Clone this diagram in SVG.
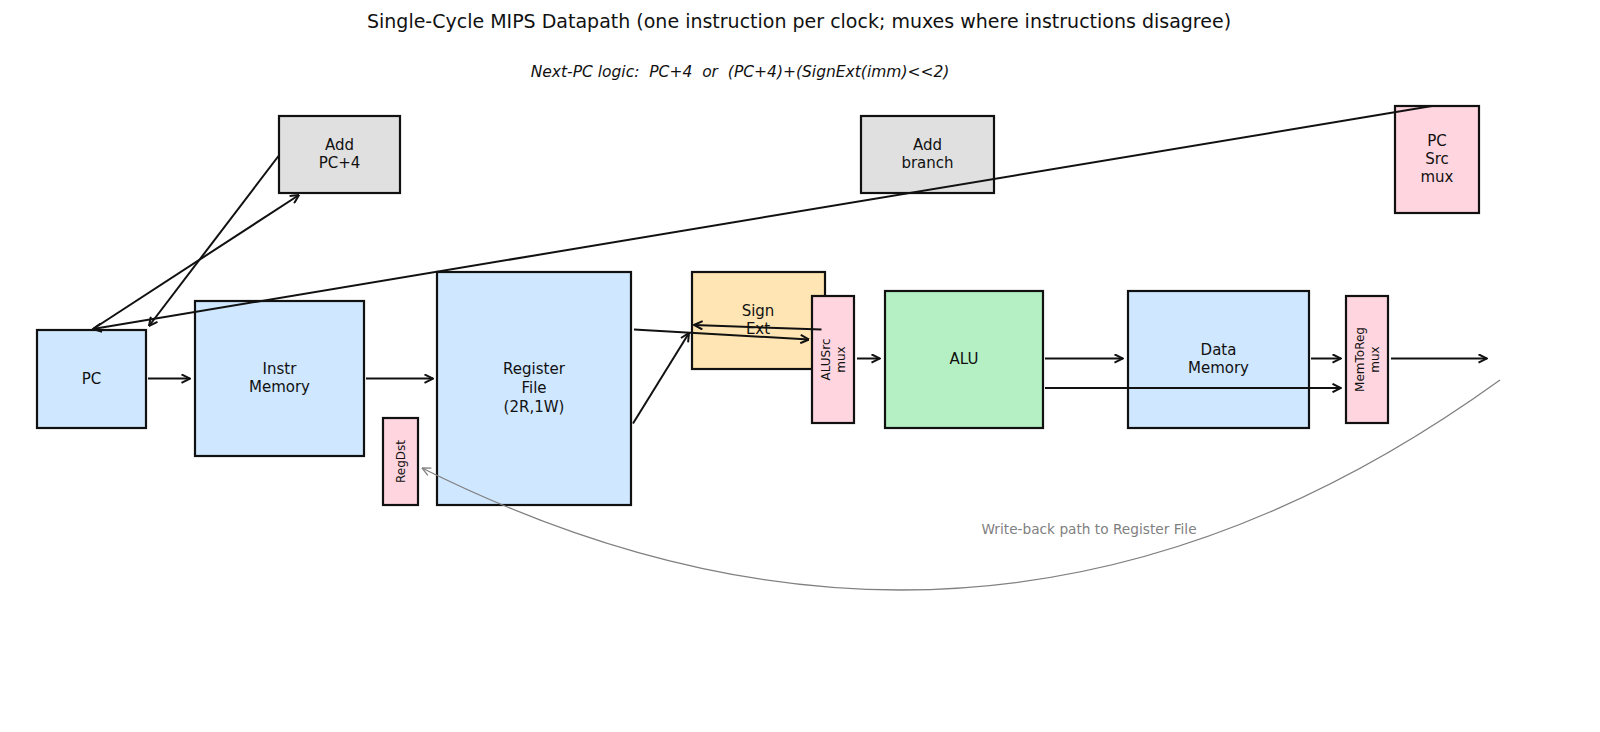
<svg xmlns="http://www.w3.org/2000/svg" width="1600" height="732" viewBox="0 0 1600 732">
<style>
text{font-family:"DejaVu Sans","Liberation Sans",sans-serif;fill:#111;text-anchor:middle;dominant-baseline:central}
.box{stroke:#111;stroke-width:2.2}
.blue{fill:#cfe7ff}
.gray{fill:#e0e0e0}
.pink{fill:#ffd5df}
.orange{fill:#ffe5b3}
.green{fill:#b4f0c4}
.lbl{font-size:15px}
.rot{font-size:12px}
.wire{fill:none;stroke:#111;stroke-width:2;marker-end:url(#arr)}
.wb{fill:none;stroke:#808080;stroke-width:1.3;marker-end:url(#arrg)}
</style>
<defs>
<marker id="arr" viewBox="0 0 10 10" refX="9.5" refY="5" markerWidth="10" markerHeight="10" markerUnits="userSpaceOnUse" orient="auto">
<path d="M1,0.8 L9.5,5 L1,9.2" fill="none" stroke="#111" stroke-width="2"/>
</marker>
<marker id="arrg" viewBox="0 0 10 10" refX="9.5" refY="5" markerWidth="10" markerHeight="10" markerUnits="userSpaceOnUse" orient="auto">
<path d="M1,1 L9.5,5 L1,9" fill="none" stroke="#808080" stroke-width="1.3"/>
</marker>
</defs>
<rect width="1600" height="732" fill="#fff"/>
<text x="799" y="20.5" font-size="19">Single-Cycle MIPS Datapath (one instruction per clock; muxes where instructions disagree)</text>
<text x="740" y="71.5" font-size="15.5" font-style="italic" style="white-space:pre">Next-PC logic:  PC+4  or  (PC+4)+(SignExt(imm)&lt;&lt;2)</text>

<g id="pc"><rect class="box blue" x="37" y="330" width="109" height="98"/><text class="lbl" x="91.5" y="379">PC</text></g>
<g id="instr-memory"><rect class="box blue" x="195" y="301" width="169" height="155"/><text class="lbl" x="279.5" y="369">Instr</text><text class="lbl" x="279.5" y="387">Memory</text></g>
<g id="add-pc4"><rect class="box gray" x="279" y="116" width="121" height="77"/><text class="lbl" x="339.5" y="145">Add</text><text class="lbl" x="339.5" y="163">PC+4</text></g>
<g id="register-file"><rect class="box blue" x="437" y="272" width="194" height="233"/><text class="lbl" x="534" y="369">Register</text><text class="lbl" x="534" y="388">File</text><text class="lbl" x="534" y="406.5">(2R,1W)</text></g>
<g id="regdst"><rect class="box pink" x="383" y="418" width="35" height="87"/><text class="rot" font-size="11" transform="translate(400.5 461.5) rotate(-90)">RegDst</text></g>
<g id="sign-ext"><rect class="box orange" x="692" y="272" width="133" height="97"/><text class="lbl" x="758" y="311">Sign</text><text class="lbl" x="758" y="329">Ext</text></g>
<g id="alusrc-mux"><rect class="box pink" x="812" y="296" width="42" height="127"/><text class="rot" transform="translate(833 359.5) rotate(-90)"><tspan x="0" y="-7.5">ALUSrc</tspan><tspan x="0" y="7.5">mux</tspan></text></g>
<g id="alu"><rect class="box green" x="885" y="291" width="158" height="137"/><text class="lbl" x="964" y="359">ALU</text></g>
<g id="add-branch"><rect class="box gray" x="861" y="116" width="133" height="77"/><text class="lbl" x="927.5" y="145">Add</text><text class="lbl" x="927.5" y="163">branch</text></g>
<g id="data-memory"><rect class="box blue" x="1128" y="291" width="181" height="137"/><text class="lbl" x="1218.5" y="350">Data</text><text class="lbl" x="1218.5" y="368">Memory</text></g>
<g id="memtoreg-mux"><rect class="box pink" x="1346" y="296" width="42" height="127"/><text class="rot" transform="translate(1367 359.5) rotate(-90)"><tspan x="0" y="-7.5">MemToReg</tspan><tspan x="0" y="7.5">mux</tspan></text></g>
<g id="pcsrc-mux"><rect class="box pink" x="1395" y="106" width="84" height="107"/><text class="lbl" x="1437" y="141">PC</text><text class="lbl" x="1437" y="159">Src</text><text class="lbl" x="1437" y="177">mux</text></g>

<g id="connectors">
<path class="wire" d="M148,378.6 L190,378.6"/>
<path class="wire" d="M366,378.6 L433,378.6"/>
<path class="wire" d="M93,329 L299,195"/>
<path class="wire" d="M278.5,156 L149,326"/>
<path class="wire" d="M1432,106 L93,329"/>
<path class="wire" d="M633,423.5 L689,333"/>
<path class="wire" d="M634,329.6 L809,339.5"/>
<path class="wire" d="M821.5,329.5 L694,325"/>
<path class="wire" d="M857,358.5 L880,358.5"/>
<path class="wire" d="M1045,358.5 L1123,358.5"/>
<path class="wire" d="M1045,388 L1341,388"/>
<path class="wire" d="M1311,358.5 L1341,358.5"/>
<path class="wire" d="M1391,358.5 L1487,358.5"/>
<path class="wb" d="M1500,380 Q987,750 422,468"/>
<text x="1089" y="529" font-size="13.7" style="fill:#808080">Write-back path to Register File</text>
</g>
</svg>
